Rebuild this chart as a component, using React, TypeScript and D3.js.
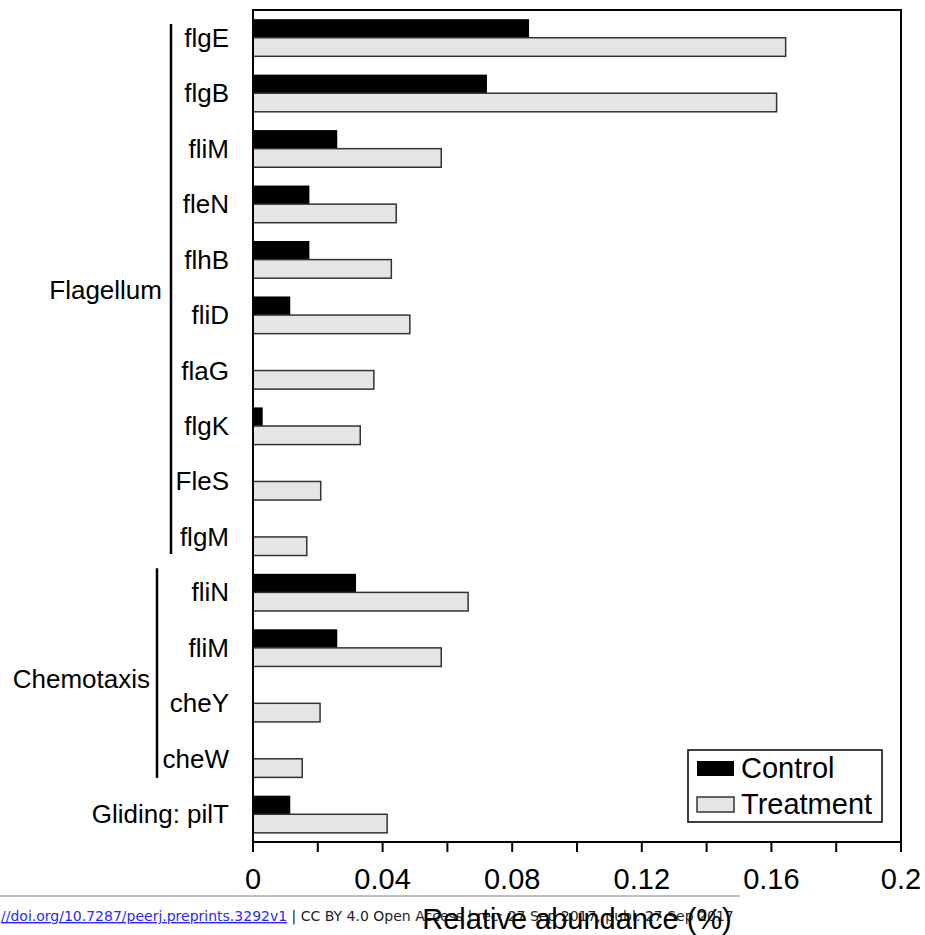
import React, { useEffect, useRef } from 'react';
import * as d3 from 'd3';

const genes = ['flgE', 'flgB', 'fliM', 'fleN', 'flhB', 'fliD', 'flaG', 'flgK', 'FleS', 'flgM', 'fliN', 'fliM', 'cheY', 'cheW', 'Gliding: pilT'];
const control = [0.0852, 0.0722, 0.026, 0.0174, 0.0174, 0.0115, 0, 0.003, 0, 0, 0.0318, 0.026, 0, 0, 0.0115];
const treatment = [0.1644, 0.1616, 0.0581, 0.0442, 0.0427, 0.0484, 0.0373, 0.0331, 0.0209, 0.0166, 0.0664, 0.0581, 0.0207, 0.0152, 0.0414];
const xTicks = [0, 0.02, 0.04, 0.06, 0.08, 0.1, 0.12, 0.14, 0.16, 0.18, 0.2];
const xLabels = [0, 0.04, 0.08, 0.12, 0.16, 0.2];
const groups = [
  { name: 'Flagellum', from: 0, to: 9 },
  { name: 'Chemotaxis', from: 10, to: 13 },
];

const App = () => {
  const svgRef = useRef<SVGSVGElement>(null);

  useEffect(() => {
    const left = 253, right = 901, top = 10, bottom = 842;
    const font = '"Liberation Sans", Arial, sans-serif';

    d3.select(svgRef.current).selectAll('*').remove();
    const svg = d3.select(svgRef.current);

    const x = d3.scaleLinear().domain([0, 0.2]).range([left, right]);
    const y = d3.scaleBand<number>()
      .domain(genes.map((_, i) => i))
      .range([top, bottom])
      .paddingInner(0.33)
      .paddingOuter(0.165);
    const bh = y.bandwidth() / 2;
    const step = y.step();
    const center = (i: number) => (y(i) as number) + y.bandwidth() / 2;

    // bars
    svg.selectAll('.ctrl')
      .data(control)
      .enter()
      .append('rect')
      .attr('x', left)
      .attr('y', (_, i) => y(i) as number)
      .attr('width', d => x(d) - left)
      .attr('height', bh)
      .attr('fill', '#000');

    svg.selectAll('.trt')
      .data(treatment)
      .enter()
      .append('rect')
      .attr('x', left)
      .attr('y', (_, i) => (y(i) as number) + bh)
      .attr('width', d => x(d) - left)
      .attr('height', bh)
      .attr('fill', '#e5e5e5')
      .attr('stroke', '#333')
      .attr('stroke-width', 1.5);

    // frame
    svg.append('rect')
      .attr('x', left)
      .attr('y', top)
      .attr('width', right - left)
      .attr('height', bottom - top)
      .attr('fill', 'none')
      .attr('stroke', '#000')
      .attr('stroke-width', 2);

    // x ticks
    svg.selectAll('.tick')
      .data(xTicks)
      .enter()
      .append('line')
      .attr('x1', d => x(d))
      .attr('x2', d => x(d))
      .attr('y1', bottom)
      .attr('y2', bottom + 10)
      .attr('stroke', '#000')
      .attr('stroke-width', 2);

    svg.selectAll('.tlabel')
      .data(xLabels)
      .enter()
      .append('text')
      .attr('x', d => x(d))
      .attr('y', 889)
      .attr('text-anchor', 'middle')
      .style('font-family', font)
      .style('font-size', '29px')
      .text(d => String(d));

    // gene labels
    svg.selectAll('.glabel')
      .data(genes)
      .enter()
      .append('text')
      .attr('x', 229)
      .attr('y', (_, i) => center(i) + 9)
      .attr('text-anchor', 'end')
      .style('font-family', font)
      .style('font-size', '26px')
      .text(d => d);

    // group brackets
    const bx = [171, 157];
    const labelRight = [162, 150];
    groups.forEach((g, k) => {
      const y0 = (y(g.from) as number) - 0.1 * step + 5;
      const y1 = (y(g.to) as number) + y.bandwidth() + 0.1 * step + 1;
      svg.append('line')
        .attr('x1', bx[k]).attr('x2', bx[k])
        .attr('y1', k === 0 ? 24 : y0 - 5)
        .attr('y2', k === 0 ? y1 - 8 : y1 - 6)
        .attr('stroke', '#000')
        .attr('stroke-width', 2.5);
      svg.append('text')
        .attr('x', labelRight[k])
        .attr('y', (y0 + y1) / 2 + 9)
        .attr('text-anchor', 'end')
        .style('font-family', font)
        .style('font-size', '26px')
        .text(g.name);
    });

    // legend
    const lg = svg.append('g');
    lg.append('rect')
      .attr('x', 688).attr('y', 750).attr('width', 194).attr('height', 72)
      .attr('fill', '#fff').attr('stroke', '#000').attr('stroke-width', 1.5);
    lg.append('rect')
      .attr('x', 697).attr('y', 761).attr('width', 37).attr('height', 15)
      .attr('fill', '#000');
    lg.append('rect')
      .attr('x', 697).attr('y', 797).attr('width', 37).attr('height', 15)
      .attr('fill', '#e5e5e5').attr('stroke', '#333').attr('stroke-width', 1.5);
    lg.append('text')
      .attr('x', 741).attr('y', 778)
      .style('font-family', font).style('font-size', '29px')
      .text('Control');
    lg.append('text')
      .attr('x', 741).attr('y', 814)
      .style('font-family', font).style('font-size', '29px')
      .text('Treatment');

    // footer of preprint page
    svg.append('line')
      .attr('x1', 0).attr('x2', 740).attr('y1', 896).attr('y2', 896)
      .attr('stroke', '#aaa').attr('stroke-width', 1.5);
    const foot = svg.append('text')
      .attr('x', 1).attr('y', 921)
      .style('font-family', '"DejaVu Sans", sans-serif')
      .style('font-size', '14px');
    foot.append('tspan')
      .attr('fill', '#2a2aff')
      .attr('text-decoration', 'underline')
      .text('//doi.org/10.7287/peerj.preprints.3292v1');
    foot.append('tspan')
      .attr('fill', '#222')
      .text(' | CC BY 4.0 Open Access | rec: 27 Sep 2017, publ: 27 Sep 2017');

    // axis title
    svg.append('text')
      .attr('x', (left + right) / 2)
      .attr('y', 929)
      .attr('text-anchor', 'middle')
      .style('font-family', font)
      .style('font-size', '29px')
      .text('Relative abundance (%)');
  }, []);

  return (
    <svg
      ref={svgRef}
      width={925}
      height={935}
      style={{ position: 'absolute', left: 0, top: 0, background: '#fff' }}
    />
  );
};

export default App;
